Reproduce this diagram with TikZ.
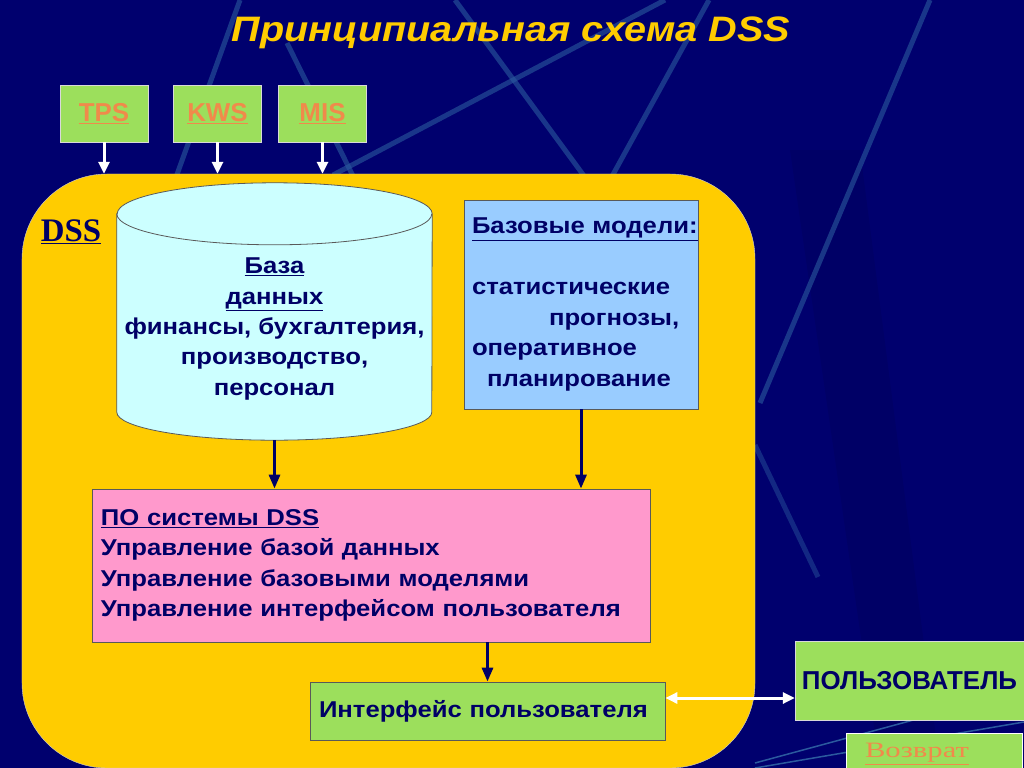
\documentclass[tikz,border=0pt]{standalone}
\usepackage{fontspec}
\setmainfont{Liberation Sans}
\newfontfamily\widesans[FakeStretch=1.12]{Liberation Sans}
\newfontfamily\timesfont{Liberation Serif}
\newfontfamily\widetimes[FakeStretch=1.4]{Liberation Serif}
\usetikzlibrary{positioning,arrows.meta}

\definecolor{slidebg}{HTML}{00006E}
\definecolor{bgline}{HTML}{2B5A9E}
\definecolor{dssyellow}{HTML}{FFCC00}
\definecolor{lgreen}{HTML}{9CDF5C}
\definecolor{linkorange}{HTML}{F08A4B}
\definecolor{dbcyan}{HTML}{CCFFFF}
\definecolor{modelblue}{HTML}{99CCFF}
\definecolor{softpink}{HTML}{FF99CC}
\definecolor{navy}{HTML}{000066}

\begin{document}
\begin{tikzpicture}[x=1bp,y=-1bp,
    bigtext/.style={font=\fontsize{23}{30.5}\selectfont\widesans\bfseries, text=navy},
    srcbox/.style={draw=black!15, fill=lgreen, minimum width=88bp, minimum height=57bp,
        font=\fontsize{26}{30}\selectfont\bfseries, text=linkorange},
    inbox/.style={draw=black!65, line width=0.8bp},
    whitearrow/.style={white, line width=3bp, -{Triangle[width=11bp,length=12bp]}},
    navyarrow/.style={navy, line width=3bp, -{Triangle[width=11bp,length=14bp]}},
    bgstroke/.style={bgline, line width=5bp, opacity=0.6}]

    \useasboundingbox (0,0) rectangle (1024,768);
    \fill[slidebg] (0,0) rectangle (1024,768);                 % slide background
    \fill[black, opacity=0.07] (790,150) -- (860,150) -- (940,768) -- (880,768) -- cycle;

    % background strokes
    \draw[bgstroke] (240,0) -- (175,180);
    \draw[bgstroke] (287,43) -- (355,180);
    \draw[bgstroke] (333,175) -- (665,0);
    \draw[bgstroke] (455,0) -- (587,180);
    \draw[bgstroke] (709,0) -- (610,180);
    \draw[bgstroke] (930,0) -- (760,403);
    \draw[bgstroke, opacity=0.45] (755,445) -- (818,577);
    \draw[bgline, line width=1.5bp] (755,763) -- (1024,690);
    \draw[bgline, line width=1.5bp] (755,768) -- (1024,722);

    \node[font=\fontsize{35.5}{40}\selectfont\widesans\bfseries\itshape, text=dssyellow] (title) at (511,33) {Принципиальная схема DSS};

    % the DSS area
    \node[draw=white!80!black, fill=dssyellow, rounded corners=85bp, minimum width=733bp, minimum height=594bp] (dss) at (388.5,471) {};
    \node[font=\fontsize{33}{36}\selectfont\timesfont\bfseries, text=navy] (dsslabel) at (71,232) {\underline{DSS}};

    % source systems
    \node[srcbox] (tps) at (104,113.5) {\underline{TPS}};
    \node[srcbox] (kws) at (217.5,113.5) {\underline{KWS}};
    \node[srcbox] (mis) at (322.5,113.5) {\underline{MIS}};

    % data base cylinder
    \node[minimum width=315bp, minimum height=257bp, inner sep=0pt] (db) at (274.5,311.5) {};
    \draw[inbox, fill=dbcyan] ([yshift=-31bp]db.north west) -- ([yshift=28bp]db.south west)
        arc[start angle=180, end angle=360, x radius=157.5bp, y radius=28bp]
        -- ([yshift=-31bp]db.north east)
        arc[start angle=0, end angle=180, x radius=157.5bp, y radius=31bp] -- cycle;
    \draw[inbox] ([yshift=-31bp]db.north west) arc[start angle=180, end angle=360, x radius=157.5bp, y radius=31bp];
    \node[bigtext, align=center] (dbtext) at (274.5,329) {\underline{База}\\\underline{данных}\\финансы, бухгалтерия,\\производство,\\персонал};

    % base models
    \node[inbox, fill=modelblue, bigtext, minimum width=234bp, minimum height=209bp, text width=218bp, align=left] (models) at (581,304.5)
        {\underline{Базовые модели:}\\[30.5bp]статистические\\\hspace*{77bp}прогнозы,\\оперативное\\\hspace*{15bp}планирование};

    % DSS software
    \node[inbox, fill=softpink, bigtext, minimum width=558bp, minimum height=153bp, text width=540bp, align=left] (soft) at (371,565.5)
        {\underline{ПО системы DSS}\\Управление базой данных\\Управление базовыми моделями\\Управление интерфейсом пользователя\\[4bp]};

    % interface and user
    \node[inbox, fill=lgreen, bigtext, minimum width=355bp, minimum height=58bp, text width=337bp, align=left] (iface) at (487.5,711) {Интерфейс пользователя};
    \node[draw=black!15, fill=lgreen, font=\fontsize{26}{30}\selectfont\bfseries, text=navy, minimum width=229bp, minimum height=79bp] (user) at (909.5,680.5) {ПОЛЬЗОВАТЕЛЬ};
    \node[draw=white, fill=lgreen, font=\fontsize{22}{26}\selectfont\widetimes, text=linkorange, minimum width=176bp, minimum height=42bp] (back) at (934,754) {\underline{Возврат}\hspace*{34bp}};

    % connectors
    \draw[whitearrow] (tps.south) -- (tps.south |- dss.north);
    \draw[whitearrow] (kws.south) -- (kws.south |- dss.north);
    \draw[whitearrow] (mis.south) -- (mis.south |- dss.north);
    \draw[navyarrow] (db.south) -- (db.south |- soft.north);
    \draw[navyarrow] (models.south) -- (models.south |- soft.north);
    \draw[navyarrow] (soft.south -| iface.north) -- (iface.north);
    \coordinate (link) at ([yshift=13bp]iface.east);
    \draw[whitearrow, {Triangle[width=11bp,length=12bp]}-{Triangle[width=11bp,length=12bp]}] (link) -- (link -| user.west);
\end{tikzpicture}
\end{document}
